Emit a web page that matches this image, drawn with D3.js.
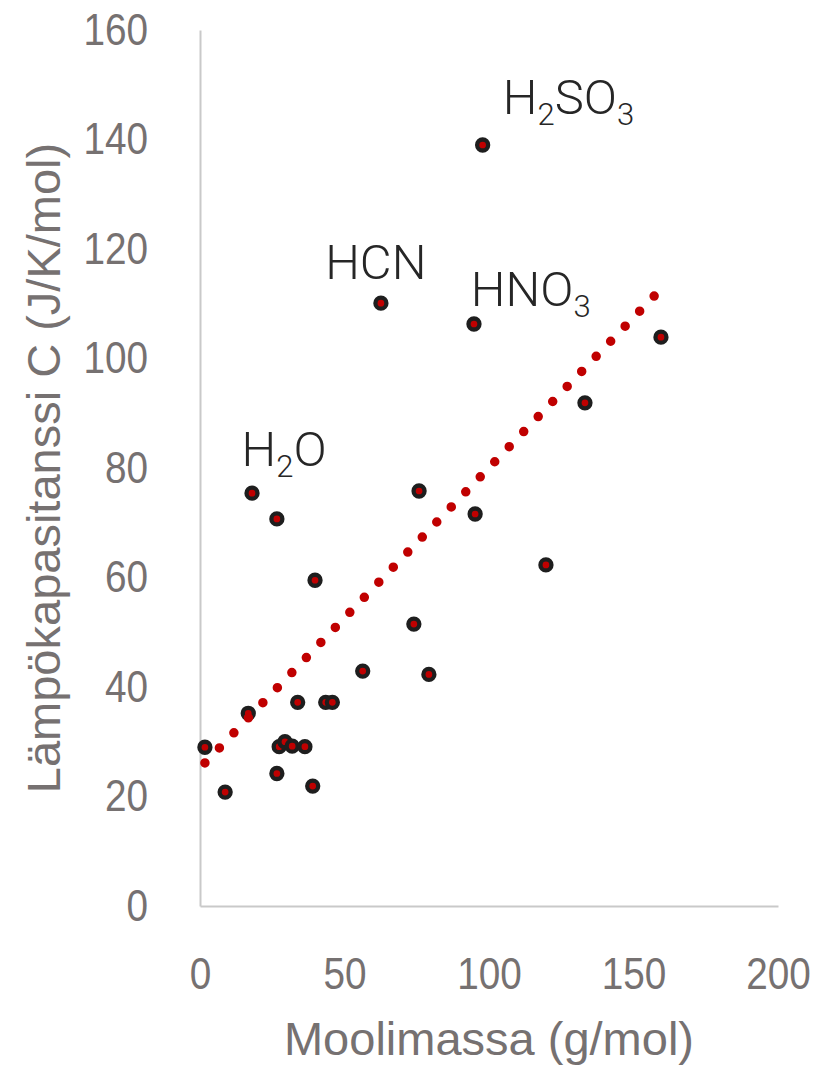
<!DOCTYPE html>
<html>
<head>
<meta charset="utf-8">
<script src="https://cdn.jsdelivr.net/npm/d3@7"></script>
<style>
  body { margin: 0; background: #fff; }
  svg { display: block; }
</style>
</head>
<body>
<div id="chart-container"></div>
<script>
// Data
var molarMass = [1.7, 8.7, 16.7, 18.0, 26.6, 26.6, 27.4, 29.4, 31.9, 36.3, 33.8, 39.0, 39.8,
                 43.5, 45.8, 56.3, 62.6, 74.0, 75.8, 79.2, 94.8, 95.2, 97.8, 119.7, 133.2, 159.5];
var heatCap = [29.0, 20.8, 35.2, 75.4, 70.7, 24.2, 29.1, 30.0, 29.2, 29.1, 37.2, 21.9, 59.5,
               37.2, 37.2, 42.9, 110.1, 51.5, 75.8, 42.3, 106.3, 71.6, 139.0, 62.3, 91.9, 103.9];

// labels: [main part, subscript, rest, subscript], anchored at data coords
var labelText = [["H", "2", "O", ""], ["HCN", "", "", ""], ["HNO", "3", "", ""], ["H", "2", "SO", "3"]];
var labelX = [14.4, 43.3, 93.7, 104.8];
var labelY = [80.4, 114.5, 109.6, 144.7];

var xTicks = [0, 50, 100, 150, 200];
var yTicks = [0, 20, 40, 60, 80, 100, 120, 140, 160];

var data = molarMass.map(function(m, i) { return { x: m, y: heatCap[i] }; });

// Set up margins and dimensions
var margin = { top: 30, right: 53, bottom: 162, left: 200 };
var width = 831 - margin.left - margin.right;
var height = 1068 - margin.top - margin.bottom;

var xScale = d3.scaleLinear().domain([0, 200]).range([0, width]);
var yScale = d3.scaleLinear().domain([0, 160]).range([height, 0]);

var svg = d3.select("#chart-container")
    .append("svg")
    .attr("width", 831)
    .attr("height", 1068)
    .append("g")
    .attr("transform", "translate(" + margin.left + "," + margin.top + ")");

var axisColor = "#c9c9c9";
var textGrey = "#767171";
var squeeze = 0.88; // tick font in the original is a narrow one

// Axes
var xAxis = d3.axisBottom(xScale).tickValues(xTicks).tickSize(0).tickPadding(52);
var yAxis = d3.axisLeft(yScale).tickValues(yTicks).tickSize(0).tickPadding(52);

var gx = svg.append("g")
    .attr("transform", "translate(0," + height + ")")
    .call(xAxis);
var gy = svg.append("g").call(yAxis);

[gx, gy].forEach(function(g) {
    g.select(".domain").attr("stroke", axisColor).attr("stroke-width", 2);
    g.selectAll("text")
        .attr("fill", textGrey)
        .attr("transform", "scale(" + squeeze + ",1)")
        .style("font-family", "'Liberation Sans', sans-serif")
        .style("font-size", "44px");
});
gy.selectAll("text").attr("x", -52 / squeeze);

// Axis titles
svg.append("text")
    .attr("x", width / 2)
    .attr("y", height + 149)
    .attr("text-anchor", "middle")
    .attr("fill", textGrey)
    .style("font-family", "'Liberation Sans', sans-serif")
    .style("font-size", "47px")
    .text("Moolimassa (g/mol)");

svg.append("text")
    .attr("transform", "rotate(-90)")
    .attr("x", -height / 2)
    .attr("y", -140)
    .attr("text-anchor", "middle")
    .attr("fill", textGrey)
    .style("font-family", "'Liberation Sans', sans-serif")
    .style("font-size", "47px")
    .text("Lämpökapasitanssi C (J/K/mol)");

// Linear trendline (least squares over the points)
var mx = d3.mean(data, d => d.x), my = d3.mean(data, d => d.y);
var sxy = d3.sum(data, d => (d.x - mx) * (d.y - my));
var sxx = d3.sum(data, d => (d.x - mx) * (d.x - mx));
var slope = sxy / sxx, icpt = my - slope * mx;
var xExt = d3.extent(data, d => d.x);
var trend = xExt.map(function(x) { return { x: x, y: icpt + slope * x }; });

var line = d3.line()
    .x(d => xScale(d.x))
    .y(d => yScale(d.y));

// Points
svg.selectAll("circle.pt")
    .data(data)
    .enter().append("circle")
    .attr("class", "pt")
    .attr("cx", d => xScale(d.x))
    .attr("cy", d => yScale(d.y))
    .attr("r", 5.5)
    .attr("fill", "#c00000")
    .attr("stroke", "#1e1e1e")
    .attr("stroke-width", 4.3);

svg.append("path")
    .datum(trend)
    .attr("fill", "none")
    .attr("stroke", "#c00000")
    .attr("stroke-width", 9.5)
    .attr("stroke-linecap", "round")
    .attr("stroke-dasharray", "0 20.9")
    .attr("d", line);

// Compound labels with subscripts
labelText.forEach(function(parts, i) {
    var t = svg.append("text")
        .attr("x", xScale(labelX[i]))
        .attr("y", yScale(labelY[i]))
        .attr("fill", "#262626")
        .style("font-family", "Roboto, 'Liberation Sans', sans-serif")
        .style("font-weight", 300)
        .style("font-size", "49px");
    t.append("tspan").text(parts[0]);
    if (parts[1]) t.append("tspan").attr("dy", 11).style("font-size", "31px").text(parts[1]);
    if (parts[2]) t.append("tspan").attr("dy", -11).text(parts[2]);
    if (parts[3]) t.append("tspan").attr("dy", 11).style("font-size", "31px").text(parts[3]);
});
</script>
</body>
</html>
